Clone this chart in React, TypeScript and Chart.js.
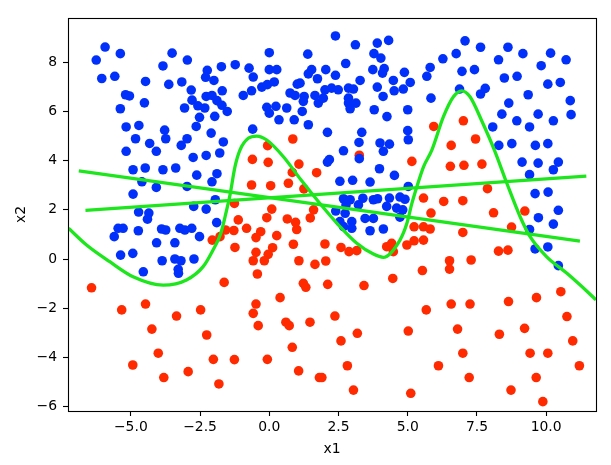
import React, { useEffect, useRef } from "react";
import { Chart, registerables } from "chart.js";

Chart.register(...registerables);

const xTicks = [-5, -2.5, 0, 2.5, 5, 7.5, 10];
const yTicks = [-6, -4, -2, 0, 2, 4, 6, 8];

const bluePoints: [number, number][] = [
  [-5.93, 8.62], [-6.25, 8.09], [-5.38, 8.35], [-6.05, 7.34], [-5.58, 7.43], [-3.51, 8.37], [-3.84, 7.85],
  [-2.96, 8.09], [-4.47, 7.22], [-3.63, 7.1], [-3.16, 7.2], [-5.19, 6.68], [-5.05, 6.63], [-5.38, 6.11],
  [-4.51, 6.35], [-2.82, 6.87], [-2.24, 7.67], [-1.73, 7.82], [-1.23, 7.9], [-2.3, 7.39], [-2.0, 7.26],
  [-1.7, 6.84], [-2.28, 6.61], [-2.07, 6.65], [-1.89, 6.44], [-2.79, 6.46], [-3.06, 6.14], [-2.58, 6.23],
  [-2.33, 6.14], [-1.71, 6.25], [-1.52, 6.0], [-2.52, 5.76], [-1.97, 5.8], [-2.64, 5.39], [-5.17, 5.37],
  [-4.71, 5.43], [-3.78, 5.24], [-4.83, 4.89], [-3.74, 4.89], [-4.32, 4.7], [-4.08, 4.38], [-2.97, 4.89],
  [-3.18, 4.62], [-2.1, 5.12], [-1.66, 4.76], [-5.17, 4.38], [-2.75, 4.13], [-2.28, 4.21], [-1.79, 4.31],
  [-4.92, 3.63], [-4.48, 3.7], [-3.84, 3.63], [-3.38, 3.7], [-2.62, 3.41], [-1.89, 3.47], [-2.07, 3.14],
  [-4.6, 3.14], [-4.08, 2.91], [-2.97, 2.95], [-4.92, 2.64], [-2.73, 2.14], [-2.28, 2.03], [-4.72, 1.91],
  [-4.35, 1.87], [-4.4, 1.62], [-1.95, 2.41],
  [-5.6, 0.91], [-5.46, 1.25], [-5.28, 1.25], [-4.73, 1.15], [-5.37, 0.16], [-4.93, 0.23], [-4.55, -0.52],
  [-4.07, 0.66], [-3.89, 1.22], [-3.74, 1.18], [-3.41, 0.66], [-3.87, -0.07], [-3.41, 0.0], [-3.19, -0.07],
  [-3.29, -0.42], [-3.28, -0.58], [-3.23, 1.25], [-3.05, 1.18], [-2.8, 1.25], [-2.72, 0.0], [-2.52, 0.91],
  [-1.9, 1.48],
  [2.39, 9.07], [3.11, 8.71], [3.9, 8.78], [4.31, 8.89], [0.0, 8.39], [1.39, 8.33], [2.76, 7.95], [3.78, 8.35],
  [4.03, 8.17], [-0.73, 7.76], [-0.58, 7.4], [0.0, 7.7], [0.27, 7.7], [1.53, 7.7], [1.41, 7.53], [1.74, 7.33],
  [2.04, 7.7], [2.39, 7.47], [3.74, 7.7], [4.15, 7.74], [4.09, 7.56], [4.88, 7.59], [3.28, 7.26], [4.48, 7.26],
  [5.09, 7.18], [3.9, 6.99], [4.11, 6.61], [4.51, 6.84], [4.84, 6.91], [-0.94, 6.65], [-0.64, 6.84],
  [-0.27, 6.99], [-0.07, 7.09], [0.18, 7.2], [0.75, 6.75], [1.01, 7.11], [1.11, 7.15], [0.93, 6.65],
  [1.26, 6.61], [1.23, 6.41], [1.65, 6.65], [1.77, 6.34], [1.95, 6.54], [2.01, 6.88], [2.25, 6.95],
  [2.49, 6.88], [2.86, 6.95], [3.04, 6.91], [2.86, 6.54], [2.86, 6.34], [3.13, 6.34], [2.92, 6.11],
  [-0.09, 6.17], [0.0, 5.93], [0.24, 6.21], [0.63, 6.14], [0.35, 5.66], [0.9, 5.66], [1.19, 6.0], [1.41, 5.46],
  [3.79, 6.07], [4.25, 5.79], [5.0, 6.07], [-0.6, 5.28], [2.1, 5.15], [3.34, 5.15], [5.0, 5.22], [5.02, 4.85],
  [3.24, 4.74], [2.68, 4.4], [4.0, 4.72], [4.34, 4.67], [4.12, 4.38], [2.17, 4.04], [2.1, 3.94], [3.25, 4.08],
  [3.98, 3.67], [4.52, 3.4], [2.55, 3.16], [3.01, 3.2], [3.64, 3.13], [5.02, 2.95],
  [2.68, 2.45], [2.92, 2.41], [3.38, 2.47], [3.76, 2.41], [3.91, 2.45], [4.34, 2.48], [4.72, 2.52], [4.9, 2.43],
  [4.24, 2.14], [4.6, 2.07], [4.82, 2.0], [2.4, 1.95], [2.74, 1.86], [2.55, 1.52], [2.98, 1.52], [2.98, 1.25],
  [2.68, 1.32], [3.22, 2.2], [2.77, 2.2], [3.46, 1.65], [3.76, 1.65], [3.64, 1.15], [4.12, 1.22], [4.72, 1.7],
  [7.07, 8.87], [7.63, 8.61], [6.75, 8.35], [6.27, 8.14], [5.81, 7.79], [5.69, 7.43], [6.96, 7.63], [7.41, 7.7],
  [6.87, 6.91], [7.63, 6.71], [7.8, 6.94], [5.84, 6.54], [8.62, 8.61], [9.16, 8.35], [8.28, 8.1], [8.49, 7.36],
  [8.95, 7.43], [10.16, 8.37], [10.72, 8.1], [9.82, 7.86], [10.06, 7.11], [10.51, 7.18], [9.35, 6.68],
  [10.87, 6.44], [10.9, 5.87], [8.65, 6.34], [8.4, 5.89], [9.71, 5.89], [8.94, 5.62], [9.4, 5.37], [10.26, 5.62],
  [8.07, 5.37], [8.29, 4.62], [8.76, 4.69], [9.61, 4.62], [10.06, 4.69], [9.13, 3.94], [9.71, 3.9], [10.44, 3.94],
  [10.26, 3.63], [9.4, 3.43], [9.6, 2.66], [10.07, 2.72], [10.44, 1.98], [9.72, 1.68],
  [9.6, 0.41], [10.06, 0.49], [10.44, -0.27], [9.4, 1.2], [10.26, 1.42],
];

const redPoints: [number, number][] = [
  [-6.42, -1.17], [-5.33, -2.07], [-4.47, -1.83], [-4.24, -2.85], [-3.35, -2.32], [-2.48, -2.07], [-2.26, -3.09],
  [-4.01, -3.83], [-4.93, -4.31], [-3.81, -4.82], [-2.93, -4.58], [-2.02, -4.08], [-1.82, -5.08], [-1.26, -4.09],
  [-1.63, -0.95], [-1.24, 0.47], [-2.06, 0.77], [-1.78, 0.91], [-1.58, 1.18], [-1.28, 1.16], [-0.82, 1.25],
  [-0.31, 1.11], [-0.48, 0.87], [0.27, 0.95], [0.12, 0.46], [-0.04, 0.19], [-0.48, 0.27], [-0.58, -0.07],
  [-0.18, -0.07], [-0.43, -0.61], [0.87, 0.6], [1.07, -0.07], [1.65, -0.22], [1.23, -0.99], [1.32, -1.15],
  [0.39, -1.57], [-0.48, -1.83], [-0.58, -2.21], [-0.4, -2.71], [0.6, -2.57], [0.72, -2.71], [1.47, -2.57],
  [0.83, -3.59], [-0.07, -4.08], [1.06, -4.55], [1.81, -4.82], [0.99, 1.2],
  [0.85, 4.88], [-0.06, 4.61], [-0.61, 4.05], [-0.04, 3.93], [1.07, 3.86], [0.83, 3.52], [1.71, 3.51],
  [-0.64, 3.01], [0.05, 2.98], [0.69, 3.08], [1.25, 2.85], [-1.26, 2.26], [0.09, 2.03], [-0.09, 1.68],
  [-1.12, 1.59], [0.65, 1.63], [0.95, 1.49], [1.48, 1.67], [1.6, 2.0],
  [5.15, 3.97], [3.25, 4.22],
  [5.94, 5.39], [7.01, 5.62], [6.57, 4.62], [7.45, 4.88], [6.54, 3.77], [7.03, 3.81], [7.68, 3.86], [7.88, 2.86],
  [5.57, 2.48], [6.3, 2.34], [6.99, 2.37], [5.84, 1.87], [8.1, 1.88], [9.23, 1.95],
  [2.01, 0.61], [2.04, -0.08], [2.11, -1.03], [3.42, -1.08], [4.46, -0.79], [5.53, -0.47], [6.51, -0.07],
  [6.51, -0.41], [7.29, -0.04], [8.28, 0.32], [8.62, 0.36], [6.99, 1.08], [8.75, 1.3], [2.59, 0.47], [2.88, 0.3],
  [3.16, 0.34], [4.24, 0.5], [4.42, 0.64], [4.48, 0.3], [4.97, 0.57], [5.23, 0.74], [5.57, 0.77], [5.23, 1.31],
  [5.57, 1.31], [5.81, 1.22], [2.37, -2.32], [2.59, -3.33], [3.18, -3.02], [5.02, -2.93], [5.67, -2.07],
  [6.57, -1.83], [7.25, -1.83], [6.8, -2.85], [6.99, -3.83], [6.11, -4.34], [7.22, -4.82], [5.11, -5.46],
  [3.04, -5.33], [2.82, -4.34], [1.9, -4.82], [8.64, -1.73], [9.65, -1.57], [10.53, -1.33], [10.75, -2.34],
  [8.31, -3.06], [9.22, -2.82], [10.96, -3.33], [9.42, -3.83], [10.06, -3.83], [11.2, -4.34], [8.73, -5.33],
  [9.64, -4.82], [9.88, -5.8],
];

const curveX = [-7.25, -6.6, -5.76, -4.92, -3.83, -2.99, -2.39, -2.05, -1.75, -1.55, -1.42, -1.24, -1.06, -0.76,
  -0.46, -0.09, 0.51, 1.15, 1.8, 2.56, 3.16, 3.76, 4.12, 4.72, 4.97, 5.15, 5.33, 5.57, 5.87, 6.29, 6.65, 6.95,
  7.25, 7.68, 8.13, 8.58, 9.06, 9.42, 10.02, 10.75, 11.53, 11.8];
const curveY = [1.25, 0.57, -0.11, -0.72, -1.06, -0.85, -0.31, 0.33, 1.05, 1.95, 2.6, 3.75, 4.43, 4.91,
  5.0, 4.84, 4.16, 3.21, 2.3, 1.31, 0.64, 0.2, 0.07, 0.77, 1.45, 2.26, 2.94, 3.75, 4.43, 5.79, 6.6, 6.84,
  6.6, 5.6, 4.43, 3.08, 1.72, 0.91, 0.09, -0.58, -1.37, -1.66];

const line1X = [-6.88, 11.22];
const line1Y = [3.58, 0.73];
const line2X = [-6.64, 11.45];
const line2Y = [1.98, 3.37];

const BLUE = "#0030fa";
const RED = "#ff2a00";
const GREEN = "#1de61d";
const FONT = "DejaVu Sans";

const fmt = (v: number, d: number) => {
  const s = Math.abs(v).toFixed(d);
  return v < 0 ? "\u2212" + s : s;
};

const framePlugin = {
  id: "frame",
  afterDraw(chart: any) {
    const { ctx, chartArea } = chart;
    const l = Math.round(chartArea.left) + 0.5;
    const t = Math.round(chartArea.top) + 0.5;
    const r = Math.round(chartArea.right) + 0.5;
    const b = Math.round(chartArea.bottom) + 0.5;
    ctx.save();
    ctx.strokeStyle = "#000";
    ctx.lineWidth = 1.1;
    ctx.strokeRect(l, t, r - l, b - t);
    ctx.restore();
  },
};

export default function App() {
  const ref = useRef<HTMLCanvasElement>(null);
  useEffect(() => {
    const canvas = ref.current;
    if (!canvas) return;
    const toXY = (xs: number[], ys: number[]) => xs.map((x, i) => ({ x, y: ys[i] }));
    const chart = new Chart(canvas, {
      type: "scatter",
      data: {
        datasets: [
          {
            label: "curve",
            data: toXY(curveX, curveY),
            showLine: true,
            borderColor: GREEN,
            borderWidth: 3.3,
            pointRadius: 0,
            cubicInterpolationMode: "monotone",
            order: 0,
          } as any,
          {
            label: "line1",
            data: toXY(line1X, line1Y),
            showLine: true,
            borderColor: GREEN,
            borderWidth: 3.3,
            pointRadius: 0,
            order: 0,
          },
          {
            label: "line2",
            data: toXY(line2X, line2Y),
            showLine: true,
            borderColor: GREEN,
            borderWidth: 3.3,
            pointRadius: 0,
            order: 0,
          },
          {
            label: "blue",
            data: bluePoints.map(([x, y]) => ({ x, y })),
            backgroundColor: BLUE,
            borderWidth: 0,
            pointRadius: 4.8,
            order: 1,
          },
          {
            label: "red",
            data: redPoints.map(([x, y]) => ({ x, y })),
            backgroundColor: RED,
            borderWidth: 0,
            pointRadius: 4.8,
            order: 2,
          },
        ],
      },
      options: {
        animation: false,
        responsive: false,
        maintainAspectRatio: false,
        layout: { padding: { left: 0, top: 18, right: 15, bottom: 0 } },
        plugins: { legend: { display: false }, tooltip: { enabled: false } },
        scales: {
          x: {
            type: "linear",
            min: -7.27,
            max: 11.8,
            afterFit: (s: any) => {
              s.height = 54;
            },
            afterBuildTicks: (s: any) => {
              s.ticks = xTicks.map((v) => ({ value: v }));
            },
            ticks: {
              callback: (v: any) => fmt(Number(v), 1),
              font: { family: FONT, size: 13.9 },
              color: "#000",
              padding: 3.5,
              maxRotation: 0,
              autoSkip: false,
            },
            grid: {
              display: true,
              drawOnChartArea: false,
              drawTicks: true,
              tickLength: 5,
              tickColor: "#000",
              tickWidth: 1.1,
            },
            border: { display: false },
            title: {
              display: true,
              text: "x1",
              font: { family: FONT, size: 13.9 },
              color: "#000",
              padding: { top: 0, bottom: 7.5 },
            },
          },
          y: {
            type: "linear",
            min: -6.18,
            max: 9.8,
            afterFit: (s: any) => {
              s.width = 68;
            },
            afterBuildTicks: (s: any) => {
              s.ticks = yTicks.map((v) => ({ value: v }));
            },
            ticks: {
              callback: (v: any) => fmt(Number(v), 0),
              font: { family: FONT, size: 13.9 },
              color: "#000",
              padding: 6,
              autoSkip: false,
            },
            grid: {
              display: true,
              drawOnChartArea: false,
              drawTicks: true,
              tickLength: 5,
              tickColor: "#000",
              tickWidth: 1.1,
            },
            border: { display: false },
            title: {
              display: true,
              text: "x2",
              font: { family: FONT, size: 13.9 },
              color: "#000",
              padding: { top: 13, bottom: 0 },
            },
          },
        },
      },
      plugins: [framePlugin],
    });
    return () => chart.destroy();
  }, []);
  return (
    <div style={{ position: "absolute", left: 0, top: 0, width: 611, height: 465, background: "#fff" }}>
      <canvas ref={ref} width={611} height={465} style={{ width: 611, height: 465, display: "block" }} />
    </div>
  );
}
